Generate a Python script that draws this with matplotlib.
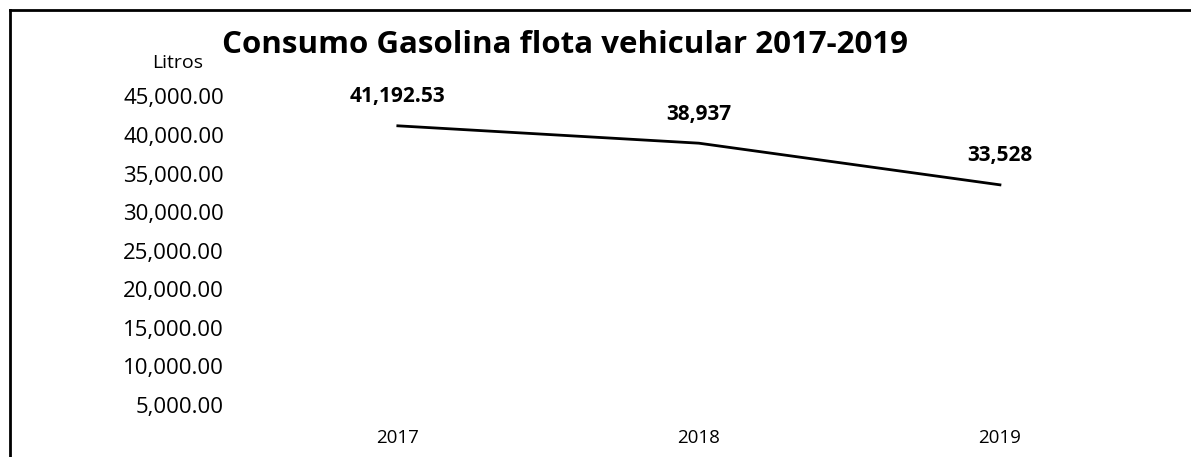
import matplotlib
matplotlib.use('Agg')
import matplotlib.pyplot as plt
from matplotlib.lines import Line2D

plt.rcParams['font.family'] = ['Open Sans', 'DejaVu Sans']

# datos
years = ['2017', '2018', '2019']
litros = [41192.53, 38937, 33528]
value_labels = ['41,192.53', '38,937', '33,528']
y_ticks = [5000, 10000, 15000, 20000, 25000, 30000, 35000, 40000, 45000]

W, H = 1191, 457
fig = plt.figure(figsize=(W / 100, H / 100), dpi=100)
fig.patch.set_facecolor('white')

ax = fig.add_axes([0.195, 0.0727, 0.7836, 0.733])
x = list(range(len(years)))
ax.plot(x, litros, color='black', linewidth=2)
ax.set_xlim(-0.55, 2.55)
ax.set_ylim(2500, 46000)

ax.set_yticks(y_ticks)
ax.set_yticklabels([f'{v:,.2f}' for v in y_ticks])
ax.set_xticks(x)
ax.set_xticklabels(years)
ax.tick_params(axis='both', length=0, colors='black')
ax.tick_params(axis='y', pad=6, labelsize=16)
ax.tick_params(axis='x', pad=4, labelsize=13.5)
for s in ax.spines.values():
    s.set_visible(False)

for xi, v, lab in zip(x, litros, value_labels):
    ax.annotate(lab, xy=(xi, v), xytext=(0, 21), textcoords='offset points',
                ha='center', va='center', fontsize=15, fontweight='bold')

fig.text(0.4744, 0.9015, 'Consumo Gasolina flota vehicular 2017-2019',
         ha='center', va='center', fontsize=22.5, fontweight='bold')
fig.text(203 / W, 1 - 63 / H, 'Litros', ha='right', va='center', fontsize=14)

# marco
fig.add_artist(Line2D([10 / W, 1], [1 - 10 / H, 1 - 10 / H],
                      transform=fig.transFigure, color='black', linewidth=2))
fig.add_artist(Line2D([10 / W, 10 / W], [0, 1 - 10 / H],
                      transform=fig.transFigure, color='black', linewidth=2))

fig.savefig('out.png', dpi=100, facecolor='white')
